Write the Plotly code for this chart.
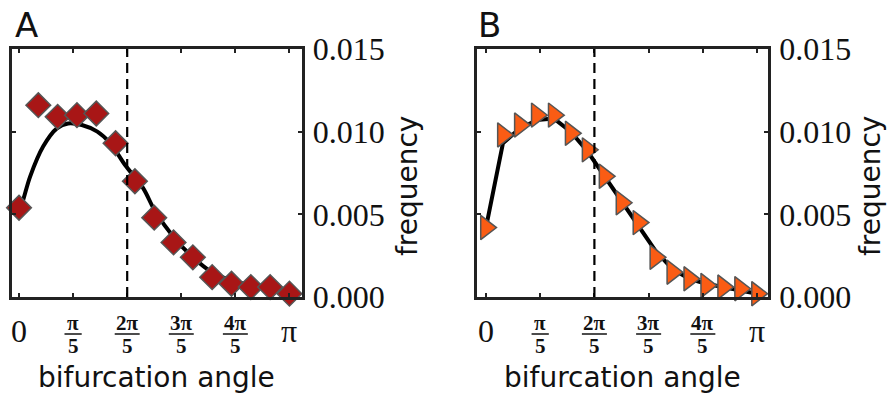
import numpy as np
import plotly.graph_objects as go

PI = np.pi
W, H = 891, 396

# ---------------- data ----------------
# Panel A: measured histogram (diamonds) at i*pi/14
a_x = [i * PI / 14 for i in range(15)]
a_y = [0.0054, 0.0116, 0.0109, 0.0110, 0.0111, 0.0093, 0.0070, 0.0048,
       0.0033, 0.0024, 0.0012, 0.0008, 0.0006, 0.0006, 0.0002]
# Panel A: fitted curve
a_fit_x = [0.0, 0.05, 0.13, 0.28, 0.44, 0.57, 0.73, 0.91, 1.06, 1.23, 1.44,
           1.58, 1.80, 2.02, 2.24, 2.47, 2.70, 2.92, 3.14]
a_fit_y = [0.0051, 0.0059, 0.0073, 0.0091, 0.0102, 0.0105, 0.0104, 0.0100,
           0.0093, 0.0080, 0.0066, 0.0052, 0.0036, 0.0024, 0.0015, 0.0010,
           0.0007, 0.0005, 0.0004]

# Panel B: measured histogram (triangles) at i*pi/16
b_x = [i * PI / 16 for i in range(17)]
b_y = [0.0042, 0.0098, 0.0104, 0.0110, 0.0110, 0.0099, 0.0089, 0.0073, 0.0057,
       0.0045, 0.0024, 0.0015, 0.0011, 0.0007, 0.0006, 0.0005, 0.0002]
b_fit_y = [0.0042, 0.0093, 0.0102, 0.0107, 0.0108, 0.0100, 0.0088, 0.0073,
           0.0057, 0.0043, 0.0028, 0.0017, 0.0011, 0.0008, 0.0006, 0.0004, 0.0002]

x_tickvals = [0, PI / 5, 2 * PI / 5, 3 * PI / 5, 4 * PI / 5, PI]
x_numerators = ["0", "π", "2π", "3π", "4π", "π"]
y_tickvals = [0.0, 0.005, 0.010, 0.015]
threshold = 2 * PI / 5

# ---------------- styling ----------------
SANS = "DejaVu Sans"
SERIF = "Liberation Serif"
AX = "#222222"
INK = "#111111"

def px_x(p):
    return p / W

def px_y(p):
    return (H - p) / H

fig = go.Figure()

fig.add_trace(go.Scatter(x=a_fit_x, y=a_fit_y, mode="lines",
                         line=dict(color="black", width=4, shape="spline", smoothing=1.0),
                         xaxis="x", yaxis="y", showlegend=False, hoverinfo="skip"))
fig.add_trace(go.Scatter(x=a_x, y=a_y, mode="markers", cliponaxis=False,
                         marker=dict(symbol="diamond", size=19, color="#A81616",
                                     line=dict(color="#555555", width=1.5)),
                         xaxis="x", yaxis="y", showlegend=False))
fig.add_trace(go.Scatter(x=b_x, y=b_fit_y, mode="lines",
                         line=dict(color="black", width=4),
                         xaxis="x2", yaxis="y2", showlegend=False, hoverinfo="skip"))
fig.add_trace(go.Scatter(x=b_x, y=b_y, mode="markers", cliponaxis=False,
                         marker=dict(symbol="triangle-right", size=21, color="#FA5C14",
                                     line=dict(color="#555555", width=1.5)),
                         xaxis="x2", yaxis="y2", showlegend=False))

ydom = [px_y(297), px_y(49)]
panels = [
    dict(xa="xaxis", ya="yaxis", xr="x", yr="y", dom=[px_x(12), px_x(301.5)],
         rng=[-0.0815, PI + 0.14], letter="A", letter_x=13, freq_x=407),
    dict(xa="xaxis2", ya="yaxis2", xr="x2", yr="y2", dom=[px_x(477), px_x(768)],
         rng=[-0.104, PI + 0.127], letter="B", letter_x=476, freq_x=870),
]

layout = dict(width=W, height=H,
              margin=dict(l=0, r=0, t=0, b=0, pad=0, autoexpand=False),
              paper_bgcolor="white", plot_bgcolor="white", showlegend=False)
annotations = []
shapes = []

for p in panels:
    layout[p["xa"]] = dict(domain=p["dom"], range=p["rng"], anchor=p["yr"],
                           tickvals=x_tickvals, showticklabels=False, automargin=False,
                           ticks="inside", ticklen=4, tickwidth=2, tickcolor=AX,
                           showline=True, linecolor=AX, linewidth=2.5, mirror="ticks",
                           showgrid=False, zeroline=False)
    layout[p["ya"]] = dict(domain=ydom, range=[0, 0.015], anchor=p["xr"], side="right",
                           tickvals=y_tickvals, tickformat=".3f", automargin=False,
                           tickfont=dict(family=SERIF, size=32, color=INK),
                           ticks="inside", ticklen=4, tickwidth=2, tickcolor=AX,
                           ticklabelstandoff=2,
                           showline=True, linecolor=AX, linewidth=2.5, mirror="ticks",
                           showgrid=False, zeroline=False)
    # threshold dashed line
    shapes.append(dict(type="line", xref=p["xr"], yref=p["yr"] + " domain",
                       x0=threshold, x1=threshold, y0=0, y1=1,
                       line=dict(color="black", width=2.2, dash="10px,6px")))
    # panel letter
    annotations.append(dict(text=p["letter"], xref="paper", yref="paper",
                            x=px_x(p["letter_x"]), y=px_y(3), xanchor="left", yanchor="top",
                            showarrow=False, font=dict(family=SANS, size=34, color=INK)))
    # y-axis title
    annotations.append(dict(text="frequency", xref="paper", yref="paper",
                            x=px_x(p["freq_x"]), y=px_y(186), xanchor="center",
                            yanchor="middle", textangle=-90, showarrow=False,
                            font=dict(family=SANS, size=28, color=INK)))
    # x-axis title
    annotations.append(dict(text="bifurcation angle", xref="paper", yref="paper",
                            x=(p["dom"][0] + p["dom"][1]) / 2, y=px_y(377),
                            xanchor="center", yanchor="middle", showarrow=False,
                            font=dict(family=SANS, size=28, color=INK)))
    # x tick labels (0, fractions of pi, pi)
    ybar = px_y(334)
    for tv, num in zip(x_tickvals, x_numerators):
        if num == "0" or tv == PI:
            annotations.append(dict(text=num, xref=p["xr"], yref="paper", x=tv, y=px_y(331),
                                    xanchor="center", yanchor="middle", showarrow=False,
                                    font=dict(family=SERIF, size=32, color=INK)))
        else:
            annotations.append(dict(text="<b>" + num + "</b>", xref=p["xr"], yref="paper",
                                    x=tv, y=ybar, xanchor="center", yanchor="bottom",
                                    showarrow=False, yshift=-3,
                                    font=dict(family=SERIF, size=21, color=INK)))
            annotations.append(dict(text="<b>5</b>", xref=p["xr"], yref="paper", x=tv, y=ybar,
                                    xanchor="center", yanchor="top", showarrow=False,
                                    yshift=2, font=dict(family=SERIF, size=21, color=INK)))
            hw = 0.10 if num == "π" else 0.145
            shapes.append(dict(type="line", xref=p["xr"], yref="paper",
                               x0=tv - hw, x1=tv + hw, y0=ybar, y1=ybar,
                               line=dict(color=INK, width=1.5)))

layout["annotations"] = annotations
layout["shapes"] = shapes
fig.update_layout(**layout)
fig.write_html("out.html", config={"displayModeBar": False},
               post_script="document.body.style.margin='0px';document.body.style.padding='0px';")
